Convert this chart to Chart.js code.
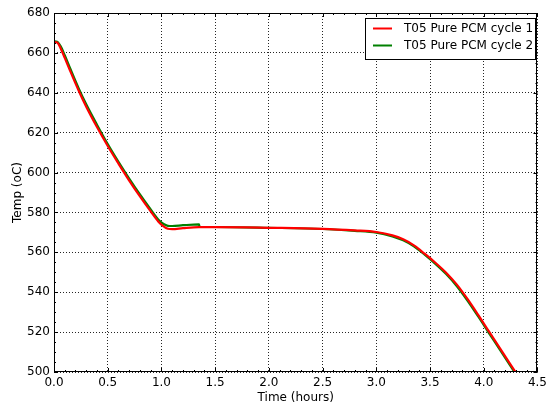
<!DOCTYPE html>
<html>
<head>
<meta charset="utf-8">
<script src="https://cdn.jsdelivr.net/npm/chart.js@4.4.1/dist/chart.umd.min.js"></script>
<style>
  html, body { margin: 0; padding: 0; background: #fff; }
  #wrap { width: 551px; height: 410px; }
</style>
</head>
<body>
<div id="wrap"><canvas id="chart" width="551" height="410"></canvas></div>
<script>
// cycle 1 (red) - time in hours, temperature in oC
const timeC1 = [0, 0.03, 0.06, 0.10, 0.15, 0.23, 0.30, 0.40, 0.50, 0.60, 0.70, 0.80, 0.90, 0.97, 1.02, 1.06, 1.10, 1.20, 1.35, 1.50, 2.00, 2.50, 2.80, 3.00, 3.15, 3.25, 3.35, 3.45, 3.55, 3.65, 3.75, 3.85, 3.95, 4.05, 4.15, 4.25, 4.35];
const tempC1 = [665.5, 665.2, 662.5, 657.5, 651, 641, 633, 622.8, 613.3, 604.5, 596, 588, 580.5, 575.5, 573, 571.8, 571.6, 572.1, 572.6, 572.6, 572.3, 571.8, 571.0, 570.2, 568.5, 566.5, 563.5, 559.3, 554.8, 549.8, 543.8, 536.5, 528.5, 520.2, 512, 503.7, 495.5];

// cycle 2 (green)
const timeC2 = [0, 0.03, 0.06, 0.10, 0.15, 0.23, 0.30, 0.40, 0.50, 0.60, 0.70, 0.80, 0.90, 0.97, 1.02, 1.06, 1.10, 1.20, 1.35, 1.355, 1.50, 2.00, 2.50, 2.80, 3.00, 3.15, 3.25, 3.35, 3.45, 3.55, 3.65, 3.75, 3.85, 3.95, 4.05, 4.15, 4.25, 4.35];
const tempC2 = [665.8, 665.6, 663.5, 658.8, 652.3, 642.2, 634.2, 624, 614.3, 605.4, 597, 589, 581.5, 576.5, 574.2, 573.3, 573.2, 573.6, 574.0, 572.8, 572.7, 572.3, 571.7, 570.8, 569.9, 568, 566, 563, 558.8, 554.2, 549.1, 543.0, 535.7, 527.7, 519.4, 511.2, 502.9, 494.7];

const seriesLabels = ['T05 Pure PCM cycle 1', 'T05 Pure PCM cycle 2'];
const seriesColors = ['#ff0000', '#008000'];

const xMin = 0, xMax = 4.5, xStep = 0.5, xMinor = 0.1;
const yMin = 500, yMax = 680, yStep = 20, yMinor = 5;

const FONT = 'DejaVu Sans';

function toPoints(xs, ys) {
    return xs.map(function(x, i) { return { x: x, y: ys[i] }; });
}

// frame, inward ticks on all four sides, and the legend box
const framePlugin = {
    id: 'frame',
    afterDraw: function(chart) {
        const ctx = chart.ctx;
        const a = chart.chartArea;
        const xs = chart.scales.x, ys = chart.scales.y;
        ctx.save();
        ctx.strokeStyle = '#000';
        ctx.lineWidth = 1;
        ctx.strokeRect(Math.round(a.left) + 0.5, Math.round(a.top) + 0.5,
            Math.round(a.right - a.left) - 1, Math.round(a.bottom - a.top) - 1);

        ctx.beginPath();
        for (let v = xMin; v <= xMax + 1e-9; v += xMinor) {
            const px = Math.round(xs.getPixelForValue(v)) + 0.5;
            const major = Math.abs(v / xStep - Math.round(v / xStep)) < 1e-6;
            const len = major ? 4 : 2;
            ctx.moveTo(px, a.bottom); ctx.lineTo(px, a.bottom - len);
            ctx.moveTo(px, a.top); ctx.lineTo(px, a.top + len);
        }
        for (let v = yMin; v <= yMax + 1e-9; v += yMinor) {
            const py = Math.round(ys.getPixelForValue(v)) + 0.5;
            const major = (v - yMin) % yStep === 0;
            const len = major ? 4 : 2;
            ctx.moveTo(a.left, py); ctx.lineTo(a.left + len, py);
            ctx.moveTo(a.right, py); ctx.lineTo(a.right - len, py);
        }
        ctx.stroke();

        // legend
        const bx = 365.5, by = 18.5, bw = 170, bh = 41;
        ctx.fillStyle = '#fff';
        ctx.fillRect(bx, by, bw, bh);
        ctx.strokeStyle = '#000';
        ctx.strokeRect(bx, by, bw, bh);
        ctx.font = '12px "' + FONT + '"';
        ctx.textBaseline = 'middle';
        ctx.textAlign = 'left';
        chart.data.datasets.forEach(function(ds, i) {
            const yy = 28.5 + i * 17;
            ctx.strokeStyle = ds.borderColor;
            ctx.lineWidth = 2;
            ctx.beginPath();
            ctx.moveTo(373, yy); ctx.lineTo(392, yy);
            ctx.stroke();
            ctx.fillStyle = '#000';
            ctx.fillText(ds.label, 404, yy);
        });
        ctx.restore();
    }
};

document.addEventListener('DOMContentLoaded', function() {
    const ctx = document.getElementById('chart').getContext('2d');

    new Chart(ctx, {
        type: 'line',
        data: {
            datasets: [
                { label: seriesLabels[0], data: toPoints(timeC1, tempC1), borderColor: seriesColors[0] },
                { label: seriesLabels[1], data: toPoints(timeC2, tempC2), borderColor: seriesColors[1] }
            ]
        },
        options: {
            responsive: false,
            animation: false,
            layout: { padding: { left: 11, right: 10, top: 13, bottom: 0 } },
            elements: {
                point: { radius: 0 },
                line: { borderWidth: 2.2, cubicInterpolationMode: 'monotone', fill: false }
            },
            plugins: {
                legend: { display: false },
                tooltip: { enabled: false }
            },
            scales: {
                x: {
                    type: 'linear',
                    min: xMin, max: xMax,
                    afterFit: function(s) { s.height = 38; },
                    border: { display: false, dash: [1, 2] },
                    grid: { color: 'rgba(0,0,0,0.85)', lineWidth: 1, drawTicks: false },
                    ticks: {
                        stepSize: xStep, padding: 4, color: '#000',
                        font: { size: 12, family: FONT },
                        maxRotation: 0,
                        callback: function(v) { return v.toFixed(1); }
                    },
                    title: { display: true, text: 'Time (hours)', color: '#000', font: { size: 12, family: FONT }, padding: { top: 0, bottom: 5 } }
                },
                y: {
                    type: 'linear',
                    min: yMin, max: yMax,
                    afterFit: function(s) { s.width = 43; },
                    border: { display: false, dash: [1, 2] },
                    grid: { color: 'rgba(0,0,0,0.85)', lineWidth: 1, drawTicks: false },
                    ticks: {
                        stepSize: yStep, padding: 4, color: '#000',
                        font: { size: 12, family: FONT }
                    },
                    title: { display: true, text: 'Temp (oC)', color: '#000', font: { size: 12, family: FONT }, padding: { top: 0, bottom: 2 } }
                }
            }
        },
        plugins: [framePlugin]
    });
});
</script>
</body>
</html>
